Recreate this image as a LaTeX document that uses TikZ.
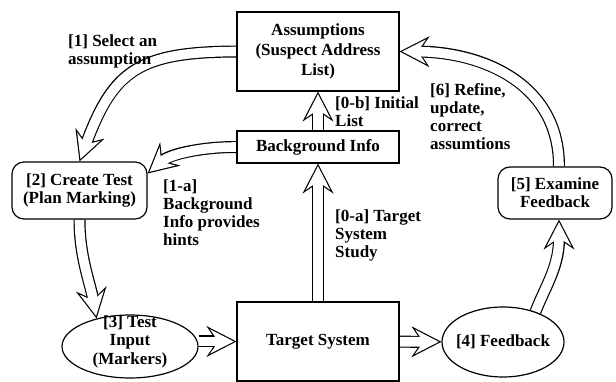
\documentclass[tikz,border=0pt]{standalone}
\usepackage{fontspec}
\setmainfont{Liberation Serif}
\usetikzlibrary{arrows.meta,shapes.geometric,backgrounds}
\tikzset{
  box/.style={draw,line width=1.2bp,fill=white,inner sep=0pt,align=center,
    font=\bfseries\fontsize{17bp}{18bp}\selectfont},
  rbox/.style={box,rounded corners=12bp},
  oval/.style={draw,ellipse,line width=1.2bp,fill=white,inner sep=0pt},
  txt/.style={inner sep=0pt,font=\bfseries\fontsize{17bp}{18bp}\selectfont},
  fatarrow/.style={line width=12bp,
    -{Stealth[length=30bp,width=31bp,inset=10.5bp,line width=0pt]},
    postaction={draw=white,line width=9.6bp,shorten >=2.6bp,
      -{Stealth[length=23.75bp,width=24.5bp,inset=8.3bp,line width=0pt]}}},
}
\begin{document}
\begin{tikzpicture}[line join=miter]
\useasboundingbox (0bp,0bp) rectangle (616bp,382bp);
%%
\node (node_asm) at (318bp,330.5bp) [box,minimum width=162bp,minimum height=79bp,
  font=\bfseries\fontsize{17bp}{20bp}\selectfont] {Assumptions\\(Suspect Address\\List)};
  \node (node_bg) at (318bp,235bp) [box,minimum width=162bp,minimum height=32bp] {Background Info};
  \node (node_tgt) at (318bp,40.5bp) [box,minimum width=162bp,minimum height=79bp] {Target System};
  \node (node_ct) at (79.5bp,191.5bp) [rbox,minimum width=135bp,minimum height=57bp] {[2] Create Test\\(Plan Marking)};
  \node (node_ex) at (555bp,189bp) [rbox,minimum width=114bp,minimum height=52bp] {[5] Examine\\Feedback};
  \node (node_inp) at (130bp,35.5bp) [oval,minimum width=136bp,minimum height=63bp] {};
  \node (node_fb) at (503bp,40bp) [oval,minimum width=122bp,minimum height=70bp] {};
  \node (node_inp_txt) at (130bp,40.5bp) [txt,align=center,
    font=\bfseries\fontsize{17bp}{18.5bp}\selectfont] {[3] Test\\Input\\(Markers)};
  \node (node_fb_txt) at (503bp,40bp) [txt] {[4] Feedback};
%
  \node (node_sel) at (68bp,330.5bp) [txt,anchor=west,align=left] {[1] Select an\\assumption};
  \node (node_init) at (335bp,270.5bp) [txt,anchor=west,align=left] {[0-b] Initial\\List};
  \node (node_refine) at (430bp,265.5bp) [txt,anchor=west,align=left] {[6] Refine,\\update,\\correct\\assumtions};
  \node (node_hint) at (163bp,169.5bp) [txt,anchor=west,align=left] {[1-a]\\Background\\Info provides\\hints};
  \node (node_study) at (335bp,147bp) [txt,anchor=west,align=left] {[0-a] Target\\System\\Study};
%
\begin{pgfonlayer}{background}
  \draw [fatarrow] (node_asm.west) ..controls (139bp,330bp) and (113.5bp,312bp)  .. (node_ct.north);
  \draw [fatarrow] (node_bg.west) ..controls (200bp,235bp) and (169.6bp,227.5bp)  .. ([yshift=17bp]node_ct.east);
  \draw [fatarrow] (node_ct.south) ..controls (79.5bp,125bp) and (90bp,100bp)  .. (node_inp.140);
  \draw [fatarrow] (node_inp.east |- node_tgt) -- (node_tgt);
  \draw [fatarrow] (node_tgt) -- (node_fb);
  \draw [fatarrow] (node_fb.43) ..controls (545bp,95bp) and (559bp,115bp)  .. ([xshift=4bp]node_ex.south);
  \draw [fatarrow] ([xshift=4bp]node_ex.north) ..controls (559bp,300bp) and (480bp,330bp)  .. (node_asm.east);
  \draw [fatarrow] (node_tgt) -- (node_bg);
  \draw [fatarrow] (node_bg) -- (node_asm);
\end{pgfonlayer}
%
\end{tikzpicture}
\end{document}
